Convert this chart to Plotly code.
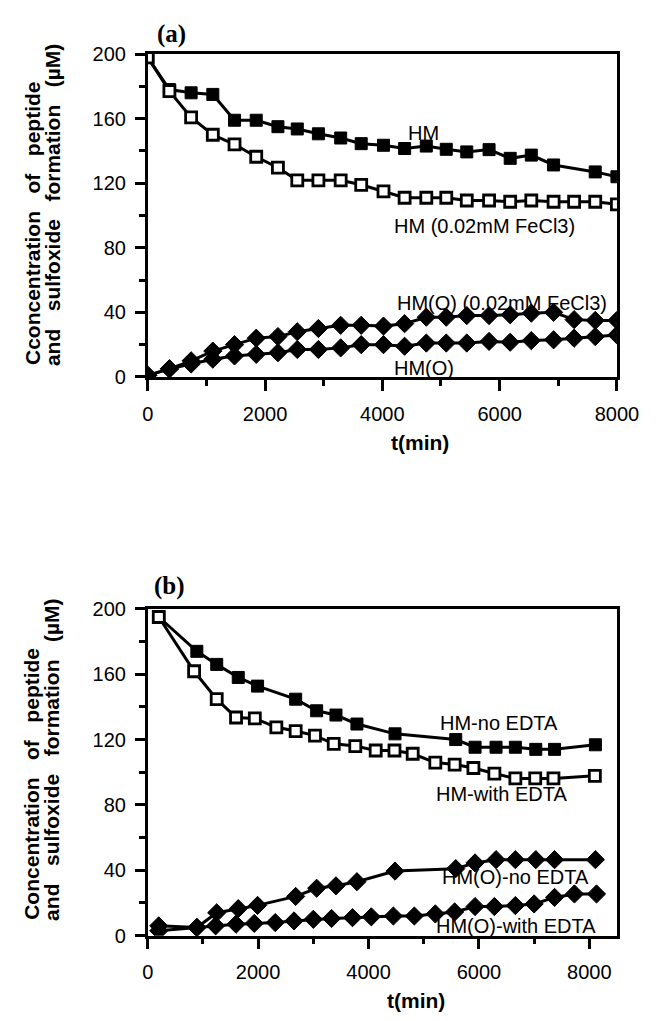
import plotly.graph_objects as go

# ---------------- Data: panel (a) ----------------
t_a = [0, 370, 740, 1110, 1480, 1850, 2220, 2550, 2910, 3290, 3640, 4020,
       4380, 4750, 5090, 5440, 5820, 6180, 6540, 6920, 7270, 7630, 8000]
t_a_hm = [0, 370, 740, 1110, 1480, 1850, 2220, 2550, 2910, 3290, 3640, 4020,
          4380, 4750, 5090, 5440, 5820, 6180, 6540, 6920, 7630, 8000]
hm_a = [198, 178, 176, 175, 159, 159, 155, 153.6, 150.6, 148, 144.5, 143.5,
        141.5, 143, 141, 139.4, 140.8, 135.4, 137.4, 131.3, 127, 124]
hm_fe_a = [198, 177, 160.8, 150, 144, 136.4, 129.6, 121.8, 121.8, 121.8, 119, 115,
           111, 111, 111, 109.3, 109.3, 108.5, 109.3, 108.5, 108.5, 108.5, 106.9]
hmo_fe_a = [1, 5, 10, 16, 20, 24, 25, 28, 30, 32, 32, 31.5,
            33, 37, 37, 38, 38, 38.5, 39.5, 40, 35.5, 35, 35]
hmo_a = [1, 5, 8, 11, 13, 14, 15, 17, 17, 18, 20, 20,
         19, 21, 21, 21, 22, 21.5, 22.5, 23, 24, 25, 26]

# ---------------- Data: panel (b) ----------------
t_b_no = [200, 890, 1250, 1640, 1990, 2680, 3060, 3410, 3790, 4480, 5580, 5930,
          6310, 6660, 7030, 7370, 8110]
hm_no_b = [195, 174, 166, 158, 152.7, 144.7, 137.6, 135, 129.5, 123.5, 120, 115.3,
           115.3, 115.3, 114, 114, 116.8]
hmo_no_b = [6, 5, 14, 16.5, 18.5, 24, 29, 30.5, 33, 39.5, 41, 44.5,
            46.5, 46.5, 46.5, 46.5, 46.5]
t_b_with = [200, 840, 1250, 1600, 1940, 2330, 2680, 3030, 3370, 3760, 4130, 4470,
            4800, 5210, 5560, 5900, 6280, 6660, 7020, 7350, 8100]
hm_with_b = [195, 161.8, 144.7, 133.5, 132.9, 127.5, 125.2, 122.4, 117.4, 116, 113.3, 113.3,
             111.3, 105.9, 104.7, 102.6, 99.2, 96.2, 96.2, 96.2, 97.8]
t_b_owith = [200, 890, 1230, 1600, 1930, 2310, 2650, 3000, 3330, 3710, 4050, 4450,
             4830, 5210, 5560, 5930, 6280, 6660, 7000, 7370, 7730, 8130]
hmo_with_b = [3, 5, 6, 7, 7.5, 8, 9, 10, 10.5, 11, 11.5, 12,
              12, 13.3, 14.5, 17.8, 17.8, 18.4, 19.4, 23.4, 25.5, 25.5]

y_ticks = [0, 40, 80, 120, 160, 200]
x_ticks = [0, 2000, 4000, 6000, 8000]

W, H = 660, 1021
SANS = "Liberation Sans, Arial, Helvetica, sans-serif"
SERIF = "Liberation Serif, Times New Roman, serif"


def px_x(p):
    return p / W


def px_y(p):
    return 1 - p / H


fig = go.Figure()

filled_sq = dict(symbol="square", size=12, color="black", line=dict(color="black", width=1))
open_sq = dict(symbol="square", size=11, color="white", line=dict(color="black", width=2.8))
diamond = dict(symbol="diamond", size=14, color="black", line=dict(color="black", width=1))
line = dict(color="black", width=3)

# panel (a)
fig.add_trace(go.Scatter(x=t_a_hm, y=hm_a, mode="lines+markers", line=line, marker=filled_sq,
                         xaxis="x", yaxis="y", name="HM"))
fig.add_trace(go.Scatter(x=t_a, y=hm_fe_a, mode="lines+markers", line=line, marker=open_sq,
                         xaxis="x", yaxis="y", name="HM (0.02mM FeCl3)"))
fig.add_trace(go.Scatter(x=t_a, y=hmo_fe_a, mode="lines+markers", line=line, marker=diamond,
                         xaxis="x", yaxis="y", name="HM(O) (0.02mM FeCl3)"))
fig.add_trace(go.Scatter(x=t_a, y=hmo_a, mode="lines+markers", line=line, marker=diamond,
                         xaxis="x", yaxis="y", name="HM(O)"))

# panel (b)
fig.add_trace(go.Scatter(x=t_b_no, y=hm_no_b, mode="lines+markers", line=line, marker=filled_sq,
                         xaxis="x2", yaxis="y2", name="HM-no EDTA"))
fig.add_trace(go.Scatter(x=t_b_with, y=hm_with_b, mode="lines+markers", line=line, marker=open_sq,
                         xaxis="x2", yaxis="y2", name="HM-with EDTA"))
fig.add_trace(go.Scatter(x=t_b_no, y=hmo_no_b, mode="lines+markers", line=line, marker=diamond,
                         xaxis="x2", yaxis="y2", name="HM(O)-no EDTA"))
fig.add_trace(go.Scatter(x=t_b_owith, y=hmo_with_b, mode="lines+markers", line=line, marker=diamond,
                         xaxis="x2", yaxis="y2", name="HM(O)-with EDTA"))

xdom = [px_x(148), px_x(638)]

common_x = dict(showgrid=False, zeroline=False, showline=True, linecolor="black", linewidth=2.5,
                mirror=True, ticks="outside", ticklen=11, tickwidth=2.5, tickcolor="black",
                tickvals=x_ticks, tickfont=dict(family=SANS, size=20, color="black"),
                ticklabelstandoff=6, ticklabeloverflow="allow",
                minor=dict(dtick=1000, ticks="outside", ticklen=6, tickwidth=2.5, tickcolor="black"),
                domain=xdom)
common_y = dict(showgrid=False, zeroline=False, showline=True, linecolor="black", linewidth=2.5,
                mirror=True, ticks="outside", ticklen=10, tickwidth=2.5, tickcolor="black",
                tickvals=y_ticks, range=[0, 200], tickfont=dict(family=SANS, size=20, color="black"),
                ticklabelstandoff=5, ticklabeloverflow="allow",
                minor=dict(dtick=20, ticks="outside", ticklen=6, tickwidth=2.5, tickcolor="black"))

fig.update_layout(
    width=W, height=H, margin=dict(l=0, r=0, t=0, b=0), autosize=False,
    paper_bgcolor="white", plot_bgcolor="white", showlegend=False,
    xaxis=dict(common_x, range=[0, 8000], anchor="y"),
    yaxis=dict(common_y, domain=[px_y(374), px_y(44)], anchor="x"),
    xaxis2=dict(common_x, range=[0, 8500], anchor="y2"),
    yaxis2=dict(common_y, domain=[px_y(945), px_y(611)], anchor="x2"),
)

ann = []
lab_font = dict(family=SANS, size=20, color="black")
# series labels (a)
for txt, x, y in [("HM", 4702, 150.9), ("HM (0.02mM FeCl3)", 5747, 93.3),
                  ("HM(O) (0.02mM FeCl3)", 6041, 46), ("HM(O)", 4718, 5.5)]:
    ann.append(dict(text=txt, x=x, y=y, xref="x", yref="y", showarrow=False, font=lab_font,
                    xanchor="center", yanchor="middle"))
# series labels (b)
for txt, x, y in [("HM-no EDTA", 6366, 130), ("HM-with EDTA", 6401, 86.8),
                  ("HM(O)-no EDTA", 6661, 35.9), ("HM(O)-with EDTA", 6679, 6)]:
    ann.append(dict(text=txt, x=x, y=y, xref="x2", yref="y2", showarrow=False, font=lab_font,
                    xanchor="center", yanchor="middle"))

bold = dict(family=SANS, size=21, color="black")
sp = "\u00a0\u00a0 "
# y titles
for bottom, l1 in [(364, "Cconcentration" + sp + "of" + sp + "peptide"),
                   (931, "Concentration" + sp + "of" + sp + "peptide")]:
    ann.append(dict(text="<b>" + l1 + "</b>", x=px_x(27), y=px_y(bottom), xref="paper", yref="paper",
                    showarrow=False, textangle=-90, font=bold, xanchor="center", yanchor="bottom"))
    ann.append(dict(text="<b>and" + sp + "sulfoxide" + sp + "formation" + sp + "(µM)</b>",
                    x=px_x(48), y=px_y(bottom + 1), xref="paper", yref="paper",
                    showarrow=False, textangle=-90, font=bold, xanchor="center", yanchor="bottom"))

# x titles
for xx, yy in [(432, 441), (428, 1011)]:
    ann.append(dict(text="<b>t(min)</b>", x=px_x(xx), y=px_y(yy), xref="paper", yref="paper",
                    showarrow=False, font=bold, xanchor="center", yanchor="middle"))

# panel letters
for txt, x, y in [("(a)", 173, 24), ("(b)", 171, 588)]:
    ann.append(dict(text="<b>" + txt + "</b>", x=px_x(x), y=px_y(y), xref="paper", yref="paper",
                    showarrow=False, font=dict(family=SERIF, size=25, color="black"),
                    xanchor="center", yanchor="middle"))

fig.update_layout(annotations=ann)

fig.write_html("out.html", config={"displayModeBar": False},
               post_script="document.body.style.margin='0';document.body.style.overflow='hidden';")
